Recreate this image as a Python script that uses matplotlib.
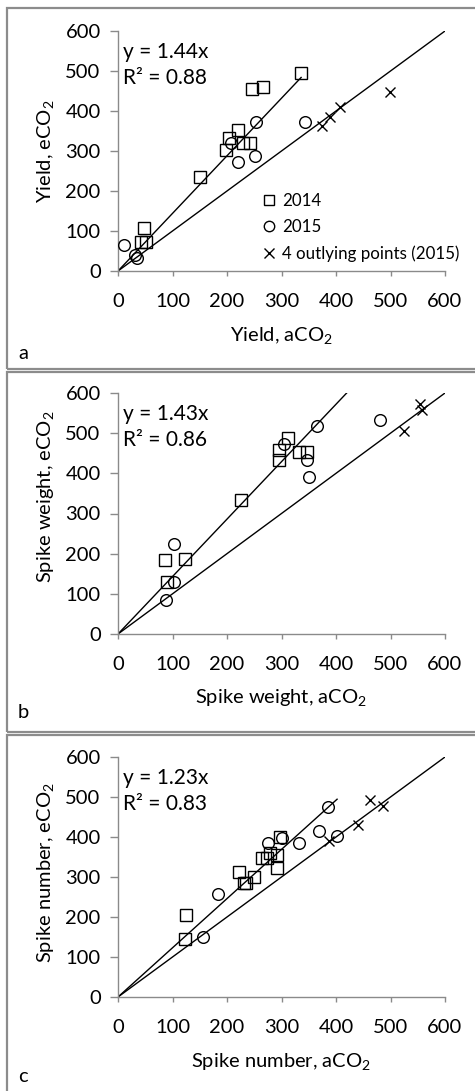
import matplotlib
matplotlib.use("Agg")
import matplotlib.pyplot as plt
from matplotlib.lines import Line2D
from matplotlib.patches import Rectangle
import numpy as np

plt.rcParams['font.family'] = ['Lato', 'DejaVu Sans']
plt.rcParams['mathtext.fontset'] = 'custom'
plt.rcParams['mathtext.rm'] = 'Lato'
plt.rcParams['mathtext.it'] = 'Lato:italic'
plt.rcParams['mathtext.bf'] = 'Lato:bold'

# ---------------- data ----------------
# Panel a: yield
sq_a_x = [335, 246, 266, 220, 204, 199, 229, 243, 150, 47, 43, 51]
sq_a_y = [495, 456, 461, 352, 332, 302, 321, 319, 234, 108, 73, 73]
ci_a_x = [11, 31, 34, 207, 220, 253, 251, 343]
ci_a_y = [65, 41, 33, 321, 272, 372, 287, 372]
cr_a_x = [375, 389, 407, 499]
cr_a_y = [363, 384, 411, 448]

# Panel b: spike weight
sq_b_x = [87, 123, 90, 225, 296, 296, 312, 333, 346]
sq_b_y = [184, 187, 129, 334, 458, 433, 487, 454, 454]
ci_b_x = [88, 102, 103, 304, 366, 346, 350, 481]
ci_b_y = [85, 224, 130, 472, 519, 433, 392, 532]
cr_b_x = [525, 554, 558]
cr_b_y = [506, 573, 557]

# Panel c: spike number
sq_c_x = [124, 123, 222, 231, 234, 250, 264, 273, 279, 291, 291, 297]
sq_c_y = [205, 145, 313, 286, 284, 301, 347, 347, 360, 355, 322, 399]
ci_c_x = [184, 156, 276, 300, 332, 368, 385, 401]
ci_c_y = [257, 151, 385, 398, 386, 416, 475, 403]
cr_c_x = [388, 441, 462, 486]
cr_c_y = [391, 430, 493, 478]

slopes = [1.44, 1.43, 1.23]
r2 = [0.88, 0.86, 0.83]
fit_xmax = [336, 420, 402]
ticks = [0, 100, 200, 300, 400, 500, 600]
xlabels = ['Yield, aCO$_2$', 'Spike weight, aCO$_2$', 'Spike number, aCO$_2$']
ylabels = ['Yield, eCO$_2$', 'Spike weight, eCO$_2$', 'Spike number, eCO$_2$']
panel_letters = ['a', 'b', 'c']
legend_labels = ['2014', '2015', '4 outlying points (2015)']

squares = [(sq_a_x, sq_a_y), (sq_b_x, sq_b_y), (sq_c_x, sq_c_y)]
circles = [(ci_a_x, ci_a_y), (ci_b_x, ci_b_y), (ci_c_x, ci_c_y)]
crosses = [(cr_a_x, cr_a_y), (cr_b_x, cr_b_y), (cr_c_x, cr_c_y)]

# ---------------- layout (pixels) ----------------
W, H = 475, 1091
fig = plt.figure(figsize=(W / 100, H / 100), dpi=100)

ax_left, ax_right = 118, 445
ax_tb = [(31, 271), (393, 634), (757, 997)]
border_tb = [(8, 369), (372, 732), (735, 1100)]
ylab_pos = [0.5, 0.57, 0.517]
letter_y = [353, 713, 1077]

grey = '#8a8a8a'
FS = 14.5

for i in range(3):
    top, bot = ax_tb[i]
    # panel border
    bt, bb = border_tb[i]
    fig.patches.append(Rectangle((7 / W, 1 - bb / H), (W + 10 - 7) / W, (bb - bt) / H,
                                 transform=fig.transFigure, fill=False,
                                 edgecolor='#8c8c8c', lw=1.6, zorder=0))
    ax = fig.add_axes([ax_left / W, 1 - bot / H, (ax_right - ax_left) / W, (bot - top) / H])
    ax.set_xlim(0, 600)
    ax.set_ylim(0, 600)
    ax.set_xticks(ticks)
    ax.set_yticks(ticks)
    for s in ['top', 'right']:
        ax.spines[s].set_visible(False)
    for s in ['left', 'bottom']:
        ax.spines[s].set_color(grey)
        ax.spines[s].set_linewidth(1.0)
    ax.tick_params(axis='x', direction='out', length=3.8, width=1.0, color=grey,
                   labelsize=FS, pad=12)
    ax.tick_params(axis='y', direction='out', length=5.5, width=1.0, color=grey,
                   labelsize=FS, pad=7)

    # 1:1 line and fitted line
    xs = np.array([0, 600])
    ax.plot(xs, xs, color='black', lw=1.0, zorder=2)
    xf = np.array([0, fit_xmax[i]])
    ax.plot(xf, slopes[i] * xf, color='black', lw=1.0, zorder=2)

    mk = dict(linestyle='none', markerfacecolor='none', markeredgecolor='black',
              markeredgewidth=1.0, zorder=3, clip_on=False)
    ax.plot(*squares[i], marker='s', markersize=8.5, **mk)
    ax.plot(*circles[i], marker='o', markersize=8.4, **mk)
    ax.plot(*crosses[i], marker='x', markersize=7.2, linestyle='none', color='black',
            markeredgewidth=1.0, zorder=3)

    ax.text(0.015, 0.912, f'y = {slopes[i]:.2f}x', transform=ax.transAxes,
            fontsize=FS + 0.5, va='center', ha='left')
    ax.text(0.015, 0.804, f'R² = {r2[i]:.2f}', transform=ax.transAxes,
            fontsize=FS + 0.5, va='center', ha='left')

    ax.set_xlabel(xlabels[i], fontsize=FS)
    ax.xaxis.set_label_coords(0.5, -64 / (bot - top))
    ax.xaxis.label.set_va('center')
    ax.set_ylabel(ylabels[i], fontsize=FS)
    ax.yaxis.set_label_coords(-72 / (ax_right - ax_left), ylab_pos[i])
    ax.yaxis.label.set_va('center')

    fig.text(23 / W, 1 - letter_y[i] / H, panel_letters[i], fontsize=FS,
             ha='center', va='center')

    if i == 0:
        handles = [
            Line2D([], [], marker='s', linestyle='none', markerfacecolor='none',
                   markeredgecolor='black', markersize=7.5, markeredgewidth=1.0),
            Line2D([], [], marker='o', linestyle='none', markerfacecolor='none',
                   markeredgecolor='black', markersize=7.5, markeredgewidth=1.0),
            Line2D([], [], marker='x', linestyle='none', color='black',
                   markersize=7.5, markeredgewidth=1.0),
        ]
        ax.legend(handles, legend_labels, loc='upper left',
                  bbox_to_anchor=((261 - ax_left) / (ax_right - ax_left), (bot - 193) / (bot - top)),
                  frameon=False, fontsize=12.2, handlelength=0.9, handletextpad=0.35,
                  labelspacing=0.6, borderpad=0, borderaxespad=0)

fig.savefig('out.png', dpi=100)
